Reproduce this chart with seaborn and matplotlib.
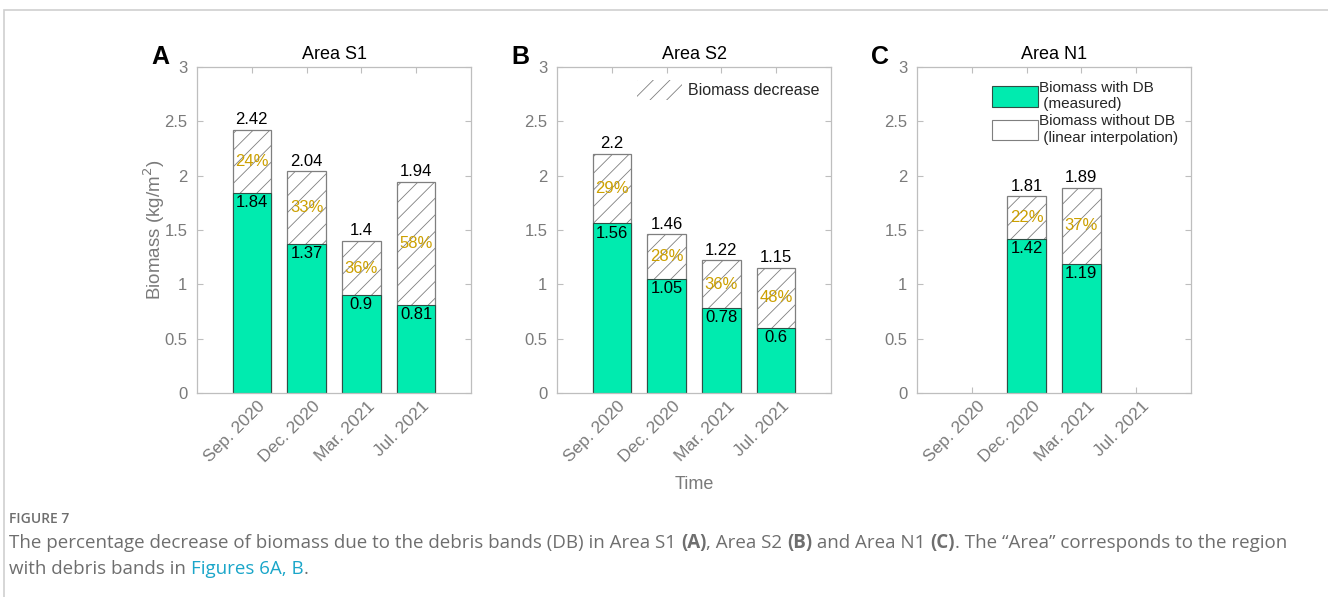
import numpy as np
import pandas as pd
import matplotlib
matplotlib.use("Agg")
import matplotlib.pyplot as plt
from matplotlib.patches import Patch, Rectangle
from matplotlib.transforms import ScaledTranslation
import seaborn as sns

# ---- data -------------------------------------------------------------
months = ["Sep. 2020", "Dec. 2020", "Mar. 2021", "Jul. 2021"]
areas = ["Area S1", "Area S2", "Area N1"]
letters = ["A", "B", "C"]

total_s1 = [2.42, 2.04, 1.4, 1.94]      # biomass without DB (interpolated)
measured_s1 = [1.84, 1.37, 0.9, 0.81]   # biomass with DB (measured)
pct_s1 = [24, 33, 36, 58]

total_s2 = [2.2, 1.46, 1.22, 1.15]
measured_s2 = [1.56, 1.05, 0.78, 0.6]
pct_s2 = [29, 28, 36, 48]

total_n1 = [np.nan, 1.81, 1.89, np.nan]
measured_n1 = [np.nan, 1.42, 1.19, np.nan]
pct_n1 = [np.nan, 22, 37, np.nan]

yticks = [0, 0.5, 1, 1.5, 2, 2.5, 3]
ytick_labels = ["0", "0.5", "1", "1.5", "2", "2.5", "3"]

panels = [
    (total_s1, measured_s1, pct_s1),
    (total_s2, measured_s2, pct_s2),
    (total_n1, measured_n1, pct_n1),
]

# ---- style ------------------------------------------------------------
sns.set_theme(style="white")
plt.rcParams["font.family"] = ["Liberation Sans", "DejaVu Sans"]
plt.rcParams["hatch.linewidth"] = 0.6

GREEN = "#00EBAF"
GOLD = "#CCA000"
SPINE = "#BEBEBE"
TICKTXT = "#7A7A7A"
HATCH_EDGE = "#7F7F7F"
BAR_EDGE = "#2F4F45"

W, H = 1328, 597
fig = plt.figure(figsize=(W / 100, H / 100), dpi=100)

ax_w = 274 / W
ax_h = 326 / H
ax_b = 1 - 393 / H
lefts = [197 / W, 557 / W, 917 / W]
label_shift = ScaledTranslation(11 / 100, 0, fig.dpi_scale_trans)

for i, (tot, meas, pct) in enumerate(panels):
    ax = fig.add_axes([lefts[i], ax_b, ax_w, ax_h])
    df = pd.DataFrame({"month": months, "total": tot, "measured": meas})

    # full (interpolated) biomass as hatched white bar
    sns.barplot(data=df, x="month", y="total", order=months, ax=ax,
                color="white", saturation=1, width=0.7,
                edgecolor=HATCH_EDGE, linewidth=0.9, hatch="//", errorbar=None)
    # measured biomass on top as solid green bar
    sns.barplot(data=df, x="month", y="measured", order=months, ax=ax,
                color=GREEN, saturation=1, width=0.7,
                edgecolor=BAR_EDGE, linewidth=0.8, errorbar=None)

    for j in range(len(months)):
        if np.isnan(tot[j]):
            continue
        ax.annotate(f"{tot[j]:g}", (j, tot[j]), xytext=(0, 2),
                    textcoords="offset points", ha="center", va="bottom",
                    fontsize=12, color="black")
        ax.annotate(f"{meas[j]:g}", (j, meas[j]), xytext=(0, -1.5),
                    textcoords="offset points", ha="center", va="top",
                    fontsize=12, color="black")
        ax.text(j, (tot[j] + meas[j]) / 2, f"{pct[j]:g}%", ha="center",
                va="center", fontsize=12, color=GOLD)

    ax.set_xlim(-1, 4)
    ax.set_ylim(0, 3)
    ax.set_yticks(yticks)
    ax.set_yticklabels(ytick_labels)
    ax.set_xticks(range(len(months)))
    ax.set_xticklabels(months, rotation=45, ha="right", va="center",
                       rotation_mode="anchor")
    ax.tick_params(axis="both", direction="in", length=4, width=0.8,
                   color=SPINE, labelcolor=TICKTXT, labelsize=12,
                   top=True, right=True, bottom=True, left=True)
    ax.tick_params(axis="x", pad=8, labelsize=12.5)
    ax.tick_params(axis="y", pad=7)
    for lab in ax.get_xticklabels():
        lab.set_transform(lab.get_transform() + label_shift)
    for sp in ax.spines.values():
        sp.set_color(SPINE)
        sp.set_linewidth(0.9)
        sp.set_visible(True)

    ax.set_xlabel("")
    ax.set_ylabel("")
    ax.set_title(areas[i], fontsize=13, color="black", pad=6)
    ax.text(-0.135, 1.03, letters[i], transform=ax.transAxes, fontsize=18,
            fontweight="bold", ha="center", va="center", color="black")

    if i == 0:
        ax.set_ylabel("Biomass (kg/m$^2$)", fontsize=13.5, color=TICKTXT)
        ax.yaxis.set_label_coords(-0.11, 0.5)
    if i == 1:
        ax.set_xlabel("Time", fontsize=13, color=TICKTXT)
        ax.xaxis.set_label_coords(0.5, -0.255)
        h = Patch(facecolor="white", edgecolor=HATCH_EDGE, hatch="//",
                  linewidth=0, label="Biomass decrease")
        ax.legend(handles=[h], loc="upper right", frameon=False,
                  fontsize=11.5, handlelength=2.8, handleheight=1.6,
                  handletextpad=0.4, bbox_to_anchor=(1.0, 0.995),
                  borderaxespad=0.3)
    if i == 2:
        handles = [
            Patch(facecolor=GREEN, edgecolor=BAR_EDGE, linewidth=0.8,
                  label="Biomass with DB\n (measured)"),
            Patch(facecolor="white", edgecolor=HATCH_EDGE, linewidth=0.8,
                  label="Biomass without DB\n (linear interpolation)"),
        ]
        ax.legend(handles=handles, loc="upper right", frameon=False,
                  fontsize=11, handlelength=3.0, handleheight=1.7,
                  handletextpad=0.05, labelspacing=0.2,
                  bbox_to_anchor=(0.985, 0.985), borderaxespad=0.2)

# ---- outer frame and caption -----------------------------------------
fig.add_artist(Rectangle((4 / W, -0.02), 1.0, 1 - 10 / H + 0.02,
                         transform=fig.transFigure, fill=False,
                         edgecolor="#CFCFCF", linewidth=1.2))

CAP = "#6E6E6E"
LINK = "#1BA6C9"
cap_font = ["Open Sans", "DejaVu Sans"]
fig.text(9 / W, 1 - 519 / H, "FIGURE 7", fontsize=10, color=CAP,
         family=cap_font, fontweight="semibold", va="center")

renderer = fig.canvas.get_renderer()


def rich_line(x_px, y_px, parts, size):
    x = x_px
    for txt, color, weight in parts:
        t = fig.text(x / W, 1 - y_px / H, txt, fontsize=size, color=color,
                     family=cap_font, fontweight=weight, va="center")
        x += t.get_window_extent(renderer=renderer).width
    return x - x_px


line1 = [
    ("The percentage decrease of biomass due to the debris bands (DB) in Area S1 ", CAP, "normal"),
    ("(A)", CAP, "bold"),
    (", Area S2 ", CAP, "normal"),
    ("(B)", CAP, "bold"),
    (" and Area N1 ", CAP, "normal"),
    ("(C)", CAP, "bold"),
    (". The \u201cArea\u201d corresponds to the region", CAP, "normal"),
]
line2 = [
    ("with debris bands in ", CAP, "normal"),
    ("Figures 6A, B", LINK, "normal"),
    (".", CAP, "normal"),
]

# pick the caption size so the first line spans the page width
probe = fig.text(0, 0, "".join(p[0] for p in line1), fontsize=10,
                 family=cap_font)
probe_w = probe.get_window_extent(renderer=renderer).width
probe.remove()
cap_size = 10 * (1270 / probe_w)

rich_line(9, 543, line1, cap_size)
rich_line(9, 569, line2, cap_size)

fig.savefig("out.png", dpi=100)
